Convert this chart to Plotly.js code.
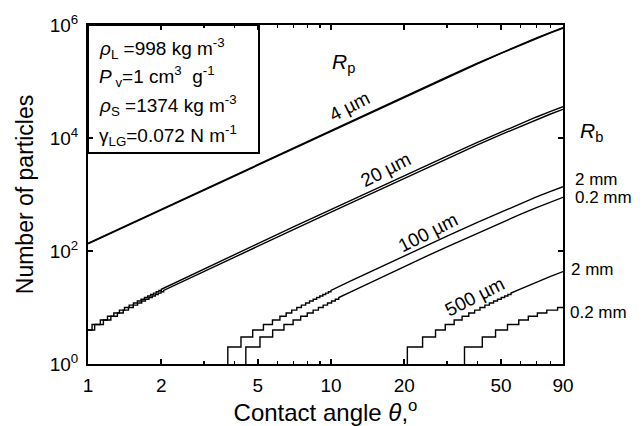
<!DOCTYPE html>
<html>
<head>
<meta charset="utf-8">
<script src="https://cdn.plot.ly/plotly-3.0.1.min.js"></script>
<style>html,body{margin:0;padding:0;background:#fff;}</style>
</head>
<body>
<div id="chart" style="width:642px;height:426px;"></div>
<script>
// ---------- data (contact angle in degrees, number of particles) ----------
// Rp = 4 um (smooth, two bubble sizes nearly overlapping)
const theta4 = [1, 1.5, 2, 3, 5, 7, 10, 15, 20, 30, 40, 50, 60, 70, 80, 90];
const n4_2mm  = [137, 308, 548, 1233, 3422, 6708, 13666, 30647, 54245, 120505, 210432, 321306, 449744, 591840, 743294, 899487];
const n4_02mm = [134, 301, 536, 1206, 3347, 6561, 13367, 29976, 53057, 117866, 205824, 314270, 439895, 578880, 727017, 879790];

// Rp = 20 um : staircase at small angles, then smooth
const stepTheta20_2mm = [1, 1.039, 1.124, 1.203, 1.277, 1.347, 1.413, 1.477, 1.538, 1.596, 1.653, 1.707, 1.760, 1.812, 1.861, 1.910, 1.958, 2.004];
const stepN20_2mm     = [4, 5, 6, 7, 8, 9, 10, 11, 12, 13, 14, 15, 16, 17, 18, 19, 20, 21];
const lineTheta20_2mm = [2.004, 3, 5, 7, 10, 15, 20, 30, 40, 50, 60, 70, 80, 90];
const lineN20_2mm     = [21, 48.2, 135.3, 266, 543, 1218.7, 2157.8, 4794.8, 8373.4, 12785.7, 17897.2, 23552.2, 29579.4, 35795];

const stepTheta20_02mm = [1, 1.065, 1.157, 1.242, 1.321, 1.396, 1.467, 1.535, 1.600, 1.663, 1.723, 1.781, 1.838, 1.892, 1.945, 1.997, 2.048];
const stepN20_02mm     = [4, 5, 6, 7, 8, 9, 10, 11, 12, 13, 14, 15, 16, 17, 18, 19, 20];
const lineTheta20_02mm = [2.048, 3, 5, 7, 10, 15, 20, 30, 40, 50, 60, 70, 80, 90];
const lineN20_02mm     = [20, 43.6, 121.9, 239.5, 488.6, 1096.5, 1941.2, 4313, 7532.1, 11501.2, 16098.4, 21184.7, 26606.1, 32197];

// Rp = 100 um
const stepTheta100_2mm = [3.76, 3.76, 4.26, 4.76, 5.27, 5.74, 6.161, 6.536, 6.890, 7.228, 7.550, 7.859, 8.156, 8.443, 8.721, 8.989, 9.251, 9.504, 9.752, 9.993];
const stepN100_2mm     = [1, 2, 3, 4, 5, 6, 7, 8, 9, 10, 11, 12, 13, 14, 15, 16, 17, 18, 19, 20];
const lineTheta100_2mm = [9.993, 12, 15, 20, 25, 30, 40, 50, 60, 70, 80, 90];
const lineN100_2mm     = [20, 29.16, 46.01, 82.18, 128.2, 183.7, 321.6, 491.6, 688.4, 906.2, 1138.4, 1377.8];

const stepTheta100_02mm = [4.46, 4.46, 5.1, 5.75, 6.4, 6.98, 7.5, 7.98, 8.44, 8.87, 9.28, 9.67, 10.05, 10.41, 10.76];
const stepN100_02mm     = [1, 2, 3, 4, 5, 6, 7, 8, 9, 10, 11, 12, 13, 14, 15];
const lineTheta100_02mm = [10.76, 12, 15, 20, 25, 30, 40, 50, 60, 70, 80, 90];
const lineN100_02mm     = [15, 18.77, 29.66, 53.03, 82.77, 118.66, 207.7, 317.6, 444.8, 585.5, 735.5, 890.3];

// Rp = 500 um
const stepTheta500_2mm = [20.6, 20.6, 23.8, 26.9, 29.5, 32.1, 34.6, 36.86, 38.96, 40.99, 42.94, 44.81, 46.63, 48.40, 50.11, 51.78, 53.41, 55.01];
const stepN500_2mm     = [1, 2, 3, 4, 5, 6, 7, 8, 9, 10, 11, 12, 13, 14, 15, 16, 17, 18];
const lineTheta500_2mm = [55.01, 60, 70, 80, 90];
const lineN500_2mm     = [18, 21.2, 28.2, 35.6, 43.3];

const stepTheta500_02mm = [35.4, 35.4, 41.9, 47.5, 53.2, 59.2, 64.8, 70.6, 77.2, 85.5, 90];
const stepN500_02mm     = [1, 2, 3, 4, 5, 6, 7, 8, 9, 10, 10];
const lineTheta500_02mm = [];
const lineN500_02mm     = [];

// tick labels
const xTickVals = [1, 2, 5, 10, 20, 50, 90];
const xTickText = ['1', '2', '5', '10', '20', '50', '90'];
const xMinorVals = [3, 4, 6, 7, 8, 9, 30, 40, 60, 70, 80];
const yTickVals = [1, 100, 1e4, 1e6];
const yTickText = ['10<sup>0</sup>', '10<sup>2</sup>', '10<sup>4</sup>', '10<sup>6</sup>'];

// ---------- build traces ----------
const FONT = 'Liberation Sans, Arial, Helvetica, sans-serif';
const LINE = {color: '#000', width: 1.4};

function staircase(st, sn, lt, ln) {
  const x = [], y = [];
  for (let i = 0; i < st.length; i++) {
    if (i > 0) { x.push(st[i]); y.push(sn[i - 1]); }
    x.push(st[i]); y.push(sn[i]);
  }
  for (let i = 0; i < lt.length; i++) { x.push(lt[i]); y.push(ln[i]); }
  return {x: x, y: y};
}
function tr(xy, name) {
  return {x: xy.x, y: xy.y, type: 'scatter', mode: 'lines', line: LINE, name: name, hoverinfo: 'skip', showlegend: false};
}

const traces = [
  tr({x: theta4, y: n4_2mm}, '4 um, 2 mm'),
  tr({x: theta4, y: n4_02mm}, '4 um, 0.2 mm'),
  tr(staircase(stepTheta20_2mm, stepN20_2mm, lineTheta20_2mm, lineN20_2mm), '20 um, 2 mm'),
  tr(staircase(stepTheta20_02mm, stepN20_02mm, lineTheta20_02mm, lineN20_02mm), '20 um, 0.2 mm'),
  tr(staircase(stepTheta100_2mm, stepN100_2mm, lineTheta100_2mm, lineN100_2mm), '100 um, 2 mm'),
  tr(staircase(stepTheta100_02mm, stepN100_02mm, lineTheta100_02mm, lineN100_02mm), '100 um, 0.2 mm'),
  tr(staircase(stepTheta500_2mm, stepN500_2mm, lineTheta500_2mm, lineN500_2mm), '500 um, 2 mm'),
  tr(staircase(stepTheta500_02mm, stepN500_02mm, lineTheta500_02mm, lineN500_02mm), '500 um, 0.2 mm')
];

function ann(text, x, y, opts) {
  return Object.assign({text: text, x: x, y: y, xref: 'paper', yref: 'paper', showarrow: false,
    font: {family: FONT, size: 19, color: '#000'}, xanchor: 'center', yanchor: 'middle', borderpad: 0}, opts || {});
}
const RB_FONT = {family: FONT, size: 17, color: '#000'};

const annotations = [
  ann('<i>ρ</i><sub>L</sub> =998 kg m<sup>-3</sup>', 0.022, 0.931, {xanchor: 'left'}),
  ann('<i>P</i><sub> v</sub>=1 cm<sup>3</sup>  g<sup>-1</sup>', 0.022, 0.8475, {xanchor: 'left'}),
  ann('<i>ρ</i><sub>S</sub> =1374 kg m<sup>-3</sup>', 0.022, 0.764, {xanchor: 'left'}),
  ann('γ<sub>LG</sub>=0.072 N m<sup>-1</sup>', 0.022, 0.6755, {xanchor: 'left'}),
  ann('<i>R</i><sub>p</sub>', 0.537, 0.888, {font: {family: FONT, size: 21, color: '#000'}}),
  ann('<i>R</i><sub>b</sub>', 1.061, 0.684, {font: {family: FONT, size: 21, color: '#000'}}),
  ann('4 µm', 0.5495, 0.761, {textangle: -27}),
  ann('20 µm', 0.627, 0.575, {textangle: -27}),
  ann('100 µm', 0.716, 0.389, {textangle: -27}),
  ann('500 µm', 0.815, 0.198, {textangle: -27}),
  ann('2 mm', 1.024, 0.545, {xanchor: 'left', font: RB_FONT}),
  ann('0.2 mm', 1.024, 0.491, {xanchor: 'left', font: RB_FONT}),
  ann('2 mm', 1.015, 0.2797, {xanchor: 'left', font: RB_FONT}),
  ann('0.2 mm', 1.012, 0.152, {xanchor: 'left', font: RB_FONT})
];

const layout = {
  width: 642, height: 426,
  margin: {l: 88, r: 79, t: 25, b: 62, pad: 0},
  paper_bgcolor: '#fff', plot_bgcolor: '#fff',
  font: {family: FONT, color: '#000'},
  showlegend: false,
  xaxis: {
    type: 'log', range: [0, Math.log10(90)],
    tickvals: xTickVals, ticktext: xTickText,
    ticks: 'inside', ticklen: 5, tickwidth: 1.5, tickcolor: '#000',
    minor: {tickvals: xMinorVals, ticks: 'inside', ticklen: 3, tickwidth: 1.2, tickcolor: '#000', showgrid: false},
    showline: true, linewidth: 2, linecolor: '#000', mirror: 'ticks',
    showgrid: false, zeroline: false,
    tickfont: {family: FONT, size: 19, color: '#000'},
    ticklabelstandoff: 3,
    title: {text: 'Contact angle <i>θ</i>,<sup>o</sup>', font: {family: FONT, size: 24, color: '#000'}, standoff: 7}
  },
  yaxis: {
    type: 'log', range: [0, 6],
    tickvals: yTickVals, ticktext: yTickText,
    ticks: 'inside', ticklen: 5, tickwidth: 1.5, tickcolor: '#000',
    showline: true, linewidth: 2, linecolor: '#000', mirror: 'ticks',
    showgrid: false, zeroline: false,
    tickfont: {family: FONT, size: 19, color: '#000'},
    ticklabelstandoff: 4,
    title: {text: 'Number of particles', font: {family: FONT, size: 23, color: '#000'}, standoff: 10}
  },
  shapes: [
    {type: 'rect', xref: 'paper', yref: 'paper', x0: 0, x1: 0.36, y0: 0.6224, y1: 1,
     line: {color: '#000', width: 2}, fillcolor: 'rgba(0,0,0,0)'}
  ],
  annotations: annotations
};

Plotly.newPlot('chart', traces, layout, {displayModeBar: false, staticPlot: true});
</script>
</body>
</html>
